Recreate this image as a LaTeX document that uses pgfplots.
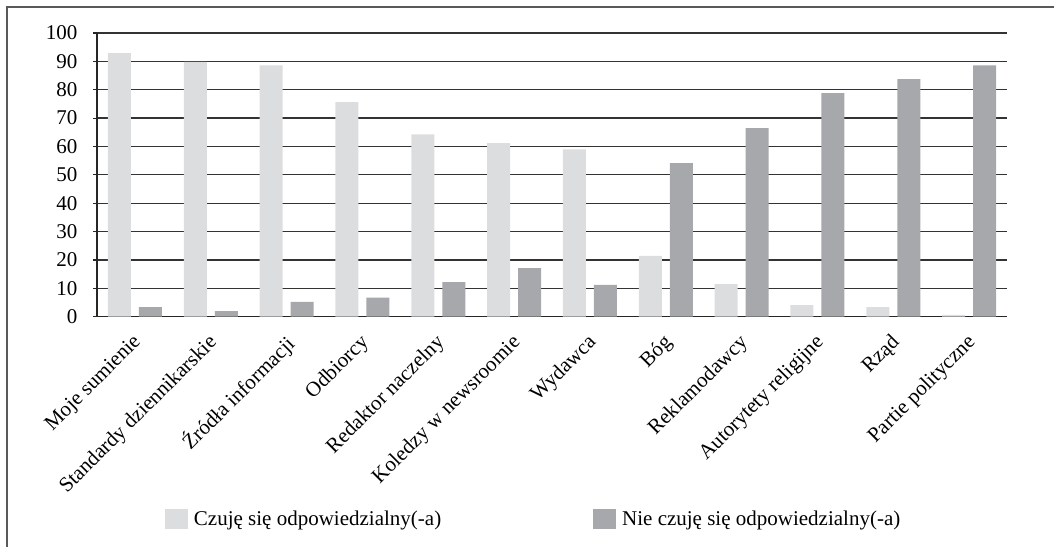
\documentclass[border=0pt]{standalone}
\usepackage{fontspec}
\setmainfont{Liberation Serif}
\usepackage{pgfplots}
\pgfplotsset{compat=1.18}
\usepackage{pgfplotstable}

\definecolor{barlight}{HTML}{DCDDDF}
\definecolor{bardark}{HTML}{A7A8AB}

% responsibility shares (%), one row per category
\pgfplotstableread{
idx yes no
0  92.9 3.4
1  89.8 2.0
2  88.6 5.2
3  75.6 6.7
4  64.3 12.2
5  61.2 17.1
6  59.0 11.2
7  21.4 54.1
8  11.5 66.5
9  4.1  78.8
10 3.4  83.7
11 0.6  88.6
}\resp

\newcommand{\chartfont}{\fontsize{21bp}{25bp}\selectfont}

\begin{document}
\begin{tikzpicture}
\path[use as bounding box] (0,0) rectangle (1054bp,547bp);
\draw[line width=1.6bp, black!65] (7bp,0) -- (7bp,540bp) -- (1054bp,540bp);
\begin{axis}[
  at={(97bp,230.3bp)}, anchor=south west,
  scale only axis, width=910bp, height=283.7bp,
  xmin=-0.5, xmax=11.5, ymin=0, ymax=100,
  ybar, bar width=23bp,
  axis x line*=bottom, axis y line*=left,
  axis line style={line width=1.2bp, black!85},
  x axis line style={-}, y axis line style={-},
  xtick=data,
  xticklabels={Moje sumienie, Standardy dziennikarskie, Źródła informacji, Odbiorcy, Redaktor naczelny, Koledzy w newsroomie, Wydawca, Bóg, Reklamodawcy, Autorytety religijne, Rząd, Partie polityczne},
  x tick style={draw=none},
  ytick={0,10,...,100},
  y tick style={line width=1.2bp, black!85},
  tick align=outside, major tick length=4bp,
  ymajorgrids, grid style={line width=1.3bp, black!80},
  /pgf/number format/assume math mode=true,
  tick label style={font=\chartfont},
  xticklabel style={rotate=45, anchor=north east, inner sep=2bp, xshift=-9bp, yshift=-4bp},
  yticklabel style={xshift=-12bp},
  legend style={at={(0.0747,-0.712)}, anchor=west, draw=none, fill=none,
    inner sep=0pt, outer sep=0pt,
    font=\chartfont, legend columns=2,
    /tikz/every odd column/.append style={column sep=4bp},
    /tikz/every even column/.append style={column sep=150bp}},
  legend image code/.code={\fill[#1, draw=none] (0bp,-10bp) rectangle (23bp,10bp);},
]
\addplot[fill=barlight, draw=none, bar shift=-15.5bp] table[x=idx, y=yes] {\resp};
\addplot[fill=bardark, draw=none, bar shift=15.5bp] table[x=idx, y=no] {\resp};
\legend{Czuję się odpowiedzialny(-a), Nie czuję się odpowiedzialny(-a)}
\end{axis}
\end{tikzpicture}
\end{document}
